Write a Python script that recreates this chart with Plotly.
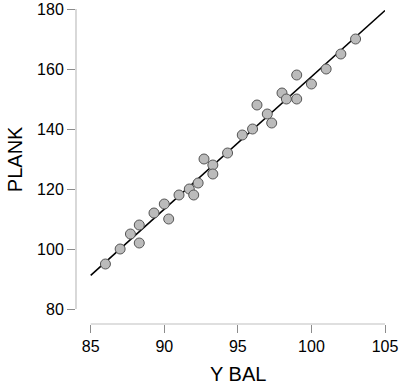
import numpy as np
import plotly.graph_objects as go

y_bal = [86.0, 87.0, 87.7, 88.3, 88.3, 89.3, 90.0, 90.3, 91.0, 91.7, 92.0, 92.3,
         92.7, 93.3, 93.3, 94.3, 95.3, 96.0, 96.3, 97.0, 97.3, 98.0, 98.3, 99.0,
         99.0, 100.0, 101.0, 102.0, 103.0]
plank = [95, 100, 105, 108, 102, 112, 115, 110, 118, 120, 118, 122,
         130, 128, 125, 132, 138, 140, 148, 145, 142, 152, 150, 158,
         150, 155, 160, 165, 170]

x_ticks = [85, 90, 95, 100, 105]
y_ticks = [80, 100, 120, 140, 160, 180]

slope, intercept = np.polyfit(y_bal, plank, 1)
line_x = [85, 105]
line_y = [intercept + slope * v for v in line_x]

FONT = "Liberation Sans, Arial, sans-serif"
AXIS_COL = "#BFBFBF"
TICK_COL = "#8C8C8C"

fig = go.Figure()
fig.add_trace(go.Scatter(x=line_x, y=line_y, mode="lines",
                         line=dict(color="black", width=1.6),
                         hoverinfo="skip", showlegend=False))
fig.add_trace(go.Scatter(x=y_bal, y=plank, mode="markers",
                         marker=dict(size=10, color="#BBBBBB",
                                     line=dict(color="#555555", width=1)),
                         showlegend=False))

# offset axis lines (JASP style)
fig.add_shape(type="line", xref="x domain", yref="y", x0=0, x1=0, y0=80, y1=180,
              line=dict(color=AXIS_COL, width=1.2))
fig.add_shape(type="line", xref="x", yref="y domain", x0=85, x1=105, y0=0, y1=0,
              line=dict(color=AXIS_COL, width=1.2))

fig.add_annotation(text="PLANK", xref="paper", yref="y", x=-0.197, y=130,
                   textangle=-90, showarrow=False, xanchor="center", yanchor="middle",
                   font=dict(family=FONT, size=20, color="black"))
fig.add_annotation(text="Y BAL", xref="x", yref="paper", x=95, y=-0.16,
                   showarrow=False, xanchor="center", yanchor="middle",
                   font=dict(family=FONT, size=20, color="black"))

fig.update_xaxes(range=[84, 105], tickvals=x_ticks, ticktext=[str(v) for v in x_ticks],
                 showgrid=False, zeroline=False, showline=False,
                 ticks="outside", ticklen=8, tickcolor=TICK_COL, tickwidth=1,
                 tickfont=dict(family=FONT, size=16, color="black"))
fig.update_yaxes(range=[75, 180], tickvals=y_ticks, ticktext=[str(v) for v in y_ticks],
                 showgrid=False, zeroline=False, showline=False,
                 ticks="outside", ticklen=8, tickcolor=TICK_COL, tickwidth=1,
                 tickfont=dict(family=FONT, size=16, color="black"))

fig.update_layout(width=400, height=387,
                  margin=dict(l=76, r=15, t=9, b=63, autoexpand=False),
                  plot_bgcolor="white", paper_bgcolor="white",
                  font=dict(family=FONT))
# remove the page's default 8px body margin so the figure fills the window exactly
fig.write_html("out.html",
               config={"displayModeBar": False},
               post_script="document.body.style.margin='0';document.body.style.overflow='hidden';")
